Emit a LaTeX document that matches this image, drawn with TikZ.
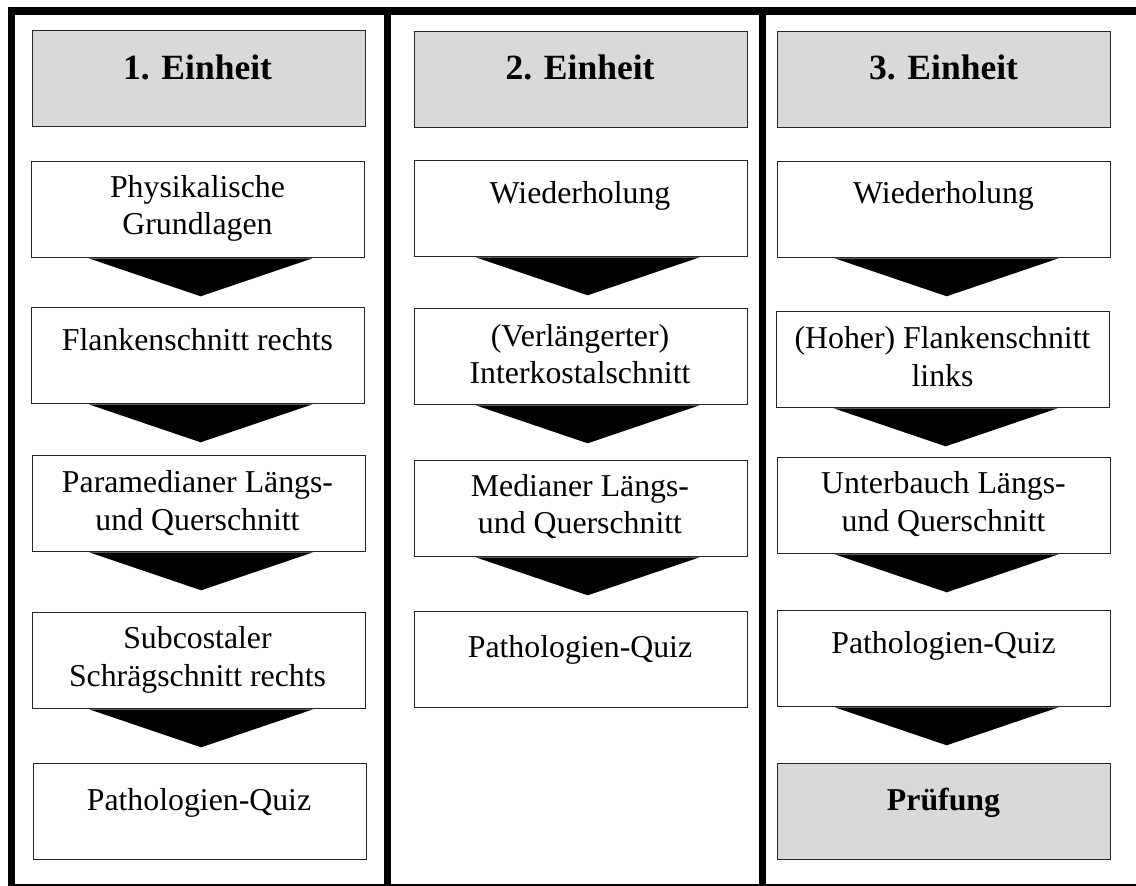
\documentclass[tikz,border=0pt]{standalone}
\usepackage{fontspec}
\setmainfont{Liberation Serif}
\usetikzlibrary{calc}
\tikzset{
  unitbox/.style={draw=black!85, line width=1.3pt, fill=white, minimum width=333, minimum height=96, anchor=north west, inner sep=0pt},
  headbox/.style={unitbox, fill=black!15},
  bodytxt/.style={font=\fontsize{31.8}{37.5}\selectfont, align=center, inner sep=0pt},
  headtxt/.style={font=\fontsize{35.5}{40}\selectfont\bfseries, inner sep=0pt, anchor=base},
  frameline/.style={line width=7.5pt, black},
}
\newcommand{\tri}[2]{\fill[black] ($(#1.south)+(#2-112,0)$) -- ($(#1.south)+(#2+112,0)$) -- ($(#1.south)+(#2,38)$) -- cycle;}
\begin{document}
\begin{tikzpicture}[x=1pt,y=-1pt]
\useasboundingbox (0,0) rectangle (1136,886);
% headers
\node[headbox] (h1) at (31.5,30) {};
\node[headbox] (h2) at (413.5,31) {};
\node[headbox] (h3) at (777,31) {};
\node[headtxt] (ht1) at (197.5,79) {1. Einheit};
\node[headtxt] (ht2) at (580,79) {2. Einheit};
\node[headtxt] (ht3) at (943.5,79) {3. Einheit};
% column 1
\node[unitbox] (b11) at (31,161) {};
\node[unitbox] (b12) at (31,307) {};
\node[unitbox] (b13) at (31.5,455) {};
\node[unitbox] (b14) at (31.5,612) {};
\node[unitbox] (b15) at (32.5,763) {};
% column 2
\node[unitbox] (b21) at (413.5,160) {};
\node[unitbox] (b22) at (413.5,308) {};
\node[unitbox] (b23) at (413.5,460) {};
\node[unitbox] (b24) at (413.5,611) {};
% column 3
\node[unitbox] (b31) at (777,161) {};
\node[unitbox] (b32) at (776,311) {};
\node[unitbox] (b33) at (777,457) {};
\node[unitbox] (b34) at (777,610) {};
\node[headbox] (b35) at (777,763) {};
% triangles
\tri{b11}{2.5}
\tri{b12}{2.5}
\tri{b13}{2.5}
\tri{b14}{2.5}
\tri{b21}{7}
\tri{b22}{7}
\tri{b23}{7}
\tri{b31}{2.5}
\tri{b32}{2.5}
\tri{b33}{2.5}
\tri{b34}{2.5}
% texts column 1
\node[bodytxt] (t11) at (197.5,208.5) {\strut Physikalische\\\strut Grundlagen};
\node[bodytxt, anchor=base] (t12) at (197.5,350) {Flankenschnitt rechts};
\node[bodytxt] (t13) at (197.5,504) {\strut Paramedianer Längs-\\\strut und Querschnitt};
\node[bodytxt] (t14) at (197.5,660) {\strut Subcostaler\\\strut Schrägschnitt rechts};
\node[bodytxt, anchor=base] (t15) at (199,810) {Pathologien-Quiz};
% texts column 2
\node[bodytxt, anchor=base] (t21) at (580,203) {Wiederholung};
\node[bodytxt] (t22) at (580,357.5) {\strut (Verlängerter)\\\strut Interkostalschnitt};
\node[bodytxt] (t23) at (580,507.5) {\strut Medianer Längs-\\\strut und Querschnitt};
\node[bodytxt, anchor=base] (t24) at (580,657) {Pathologien-Quiz};
% texts column 3
\node[bodytxt, anchor=base] (t31) at (943.5,203) {Wiederholung};
\node[bodytxt] (t32) at (942.5,360) {\strut (Hoher) Flankenschnitt\\\strut links};
\node[bodytxt] (t33) at (943.5,505) {\strut Unterbauch Längs-\\\strut und Querschnitt};
\node[bodytxt, anchor=base] (t34) at (943.5,653) {Pathologien-Quiz};
\node[bodytxt, anchor=base, font=\fontsize{31.8}{37.5}\selectfont\bfseries] (t35) at (943.5,810) {Prüfung};
% frame
\draw[frameline] (11.5,11) rectangle (1142,888);
\draw[frameline] (387.5,11) -- (387.5,888);
\draw[frameline] (762.5,11) -- (762.5,888);
\end{tikzpicture}
\end{document}
